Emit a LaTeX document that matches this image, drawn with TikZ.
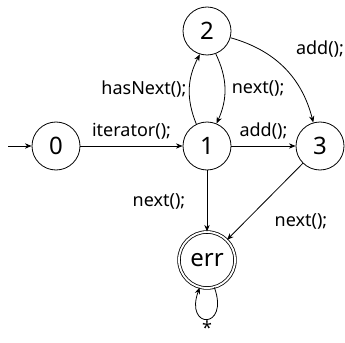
\documentclass[tikz,border=0pt]{standalone}
\usepackage{fontspec}
\setmainfont{Noto Sans}
\usetikzlibrary{arrows.meta,positioning}

\begin{document}
\begin{tikzpicture}[
    x=0.75pt, y=0.75pt,
    >={Stealth[length=5pt,width=4pt]},
    state/.style = {circle, draw, line width=0.6pt, minimum size=36pt,
                    inner sep=0pt, font=\fontsize{18}{20}\selectfont},
    final/.style = {state, double, double distance=1.4pt, minimum size=42pt},
    arr/.style   = {->, line width=0.6pt},
    lbl/.style   = {font=\fontsize{13.5}{15}\selectfont, inner sep=2pt},
]
\useasboundingbox (0,0) rectangle (345,-342);

%% -- states --------------------------------------------------------------
\node[state] (q0)  at ( 56,-146) {0};
\node[state] (q1)  at (207,-146) {1};
\node[state] (q2)  at (207, -31) {2};
\node[state] (q3)  at (320,-146) {3};
\node[final] (err) at (207,-260) {err};
\coordinate (start) at (8,-146);

%% -- transitions ---------------------------------------------------------
\draw[arr] (start) -- (q0);
\draw[arr] (q0) -- node[lbl, above=3pt] {iterator();} (q1);
\draw[arr] (q1) -- node[lbl, above=3pt] {add();} (q3);
\draw[arr] (q1.116) to[bend left=25] node[lbl, left] {hasNext();} (q2.-107);
\draw[arr] (q2.-69) to[bend left=25] node[lbl, right=3pt] {next();} (q1.67);
\draw[arr] (q2.-16) to[bend left=30]
    node[lbl, pos=0.4, anchor=south west, xshift=13pt] {add();} (q3.106);
\draw[arr] (q1) -- node[lbl, left=14pt] {next();} (err);
\draw[arr] (q3) -- node[lbl, anchor=north west, xshift=5pt, yshift=-7pt] {next();} (err);

%% -- error self loop -----------------------------------------------------
\draw[arr] (err.-75) .. controls +(-70:45) and +(-110:45) .. (err.-105)
    node[lbl, pos=0.5, below=1pt, inner sep=0pt] {*};

\end{tikzpicture}
\end{document}
